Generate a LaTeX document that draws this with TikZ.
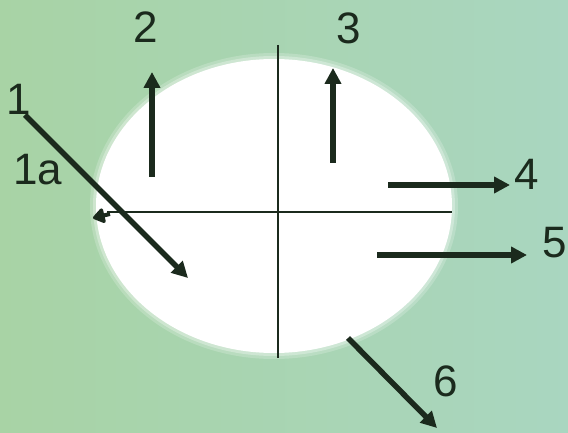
\documentclass[tikz,border=0pt]{standalone}
\usepackage{fontspec}
\setmainfont{Liberation Sans}
\usetikzlibrary{arrows.meta}
\definecolor{bgL}{HTML}{A8D3A5}
\definecolor{bgR}{HTML}{A9D6C0}
\definecolor{ink}{HTML}{1B2A1D}
\begin{document}
\begin{tikzpicture}[x=1pt,y=-1pt,
  arr/.style={draw=ink, line width=5.5pt, -{Triangle[length=16pt,width=16pt]}},
  smallarr/.style={draw=ink, line width=4pt, -{Triangle[length=13pt,width=17pt,round]}},
  axisline/.style={draw=ink, line width=1.8pt},
  lbl/.style={font=\fontsize{44}{44}\selectfont, text=ink, inner sep=0pt}]
\fill[left color=bgL, right color=bgR] (0,0) rectangle (568,433);
\useasboundingbox (0,0) rectangle (568,433);
% soft white ellipse
\fill[white, opacity=0.2] (274,206) ellipse [x radius=184, y radius=153];
\fill[white, opacity=0.3] (274,206) ellipse [x radius=181, y radius=150];
\fill[white] (274,206) ellipse [x radius=178, y radius=147];
% cross
\coordinate (vt) at (278,45);
\coordinate (vb) at (278,358);
\coordinate (hl) at (107,212);
\coordinate (hr) at (452,212);
\draw[axisline] (vt) -- (vb);
\draw[axisline] (hl) -- (hr);
% arrow end points
\coordinate (a1s) at (25,115);  \coordinate (a1e) at (188,278);
\coordinate (a1as) at (110,214); \coordinate (a1ae) at (93,218);
\coordinate (a2s) at (152,177); \coordinate (a2e) at (152,72);
\coordinate (a3s) at (333,163); \coordinate (a3e) at (333,68);
\coordinate (a4s) at (388,185); \coordinate (a4e) at (510,185);
\coordinate (a5s) at (377,255); \coordinate (a5e) at (527,255);
\coordinate (a6s) at (348,338); \coordinate (a6e) at (437,428);
\draw[arr] (a1s) -- (a1e);
\draw[smallarr] (a1as) -- (a1ae);
\draw[arr] (a2s) -- (a2e);
\draw[arr] (a3s) -- (a3e);
\draw[arr] (a4s) -- (a4e);
\draw[arr] (a5s) -- (a5e);
\draw[arr] (a6s) -- (a6e);
% labels
\node[lbl] (l1) at (19,99) {1};
\node[lbl] (l1a) at (38,170) {1a};
\node[lbl] (l2) at (146,27) {2};
\node[lbl] (l3) at (349,28) {3};
\node[lbl] (l4) at (527,174) {4};
\node[lbl] (l5) at (555,243) {5};
\node[lbl] (l6) at (446,381) {6};
\end{tikzpicture}
\end{document}
